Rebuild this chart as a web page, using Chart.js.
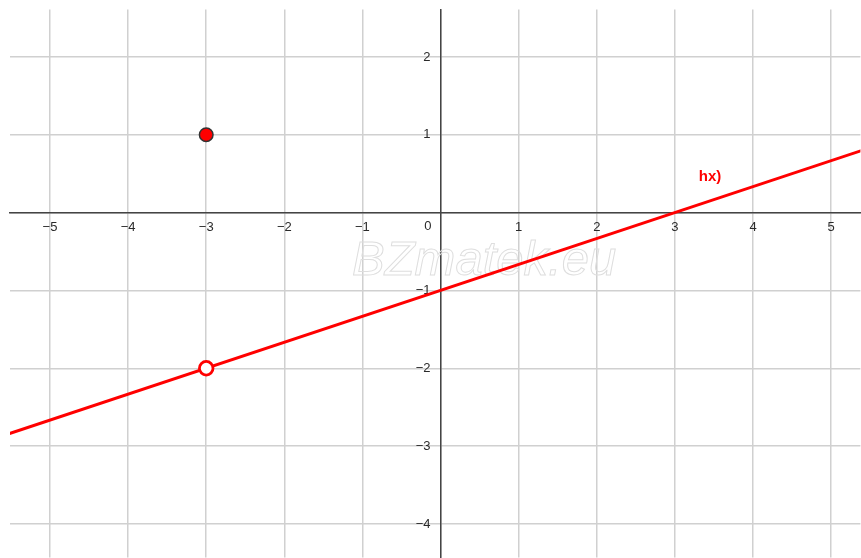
<!DOCTYPE html>
<html>
<head>
<meta charset="utf-8">
<script src="https://cdn.jsdelivr.net/npm/chart.js@4.4.1/dist/chart.umd.min.js"></script>
<style>
  html, body { margin: 0; padding: 0; background: #ffffff; overflow: hidden; }
  /* slightly larger than the window: the centred axes keep a 9px gap on the right and bottom */
  #wrap { width: 870px; height: 567px; }
</style>
</head>
<body>
<div id="wrap"><canvas id="graph"></canvas></div>
<script>
// visible window of the coordinate plane
const xRange = [-5.512, 5.375];
const yRange = [-4.43, 2.608];
const xTicks = [-5, -4, -3, -2, -1, 0, 1, 2, 3, 4, 5];
const yTicks = [-4, -3, -2, -1, 0, 1, 2];

// h(x) = x/3 - 1, drawn between two far points
const lineX = [-6, 6];
const lineY = [-3, 1];

// closed and open points at x = -3
const closedPoint = { x: -3, y: 1 };
const openPoint = { x: -3, y: -2 };

const funcLabel = 'hx)';
const funcLabelPos = { x: 3.45, y: 0.46 };
const watermark = 'BZmatek.eu';

const labelFont = { family: '"Liberation Sans", Arial, sans-serif', size: 13 };

function minusLabel(v) {
    if (v === 0) return '';
    return v < 0 ? '\u2212' + Math.abs(v) : String(v);
}

// centred axes should not push the plot area inwards
function noPadding(scale) {
    scale.paddingLeft = 0;
    scale.paddingRight = 0;
    scale.paddingTop = 0;
    scale.paddingBottom = 0;
}

const extraText = {
    id: 'extraText',
    beforeDatasetsDraw(chart) {
        const ctx = chart.ctx;
        const xs = chart.scales.x, ys = chart.scales.y;
        ctx.save();
        // watermark
        ctx.font = 'italic 49px "Liberation Sans", Arial, sans-serif';
        ctx.textAlign = 'left';
        ctx.textBaseline = 'alphabetic';
        ctx.strokeStyle = '#dedede';
        ctx.lineWidth = 1;
        ctx.strokeText(watermark, 352, 275);
        // origin label
        ctx.font = '13px "Liberation Sans", Arial, sans-serif';
        ctx.fillStyle = '#2a2a2a';
        ctx.textAlign = 'right';
        ctx.textBaseline = 'middle';
        ctx.fillText('0', xs.getPixelForValue(0) - 9, ys.getPixelForValue(0) + 14);
        ctx.restore();
    },
    afterDatasetsDraw(chart) {
        const ctx = chart.ctx;
        const xs = chart.scales.x, ys = chart.scales.y;
        ctx.save();
        ctx.font = 'bold 15px "Liberation Sans", Arial, sans-serif';
        ctx.fillStyle = '#ff0000';
        ctx.textAlign = 'center';
        ctx.textBaseline = 'middle';
        ctx.fillText(funcLabel, xs.getPixelForValue(funcLabelPos.x), ys.getPixelForValue(funcLabelPos.y));
        ctx.restore();
    }
};

const ctx = document.getElementById('graph');
new Chart(ctx, {
    type: 'scatter',
    data: {
        datasets: [
            {
                label: 'h',
                data: lineX.map((x, i) => ({ x: x, y: lineY[i] })),
                showLine: true,
                borderColor: '#ff0000',
                borderWidth: 3,
                pointRadius: 0,
                fill: false,
                order: 2
            },
            {
                label: 'closed',
                data: [closedPoint],
                pointRadius: 6.8,
                pointBackgroundColor: '#ff0000',
                pointBorderColor: '#333333',
                pointBorderWidth: 1.5,
                order: 1
            },
            {
                label: 'open',
                data: [openPoint],
                pointRadius: 6.8,
                pointBackgroundColor: '#ffffff',
                pointBorderColor: '#ff0000',
                pointBorderWidth: 2.8,
                order: 0
            }
        ]
    },
    options: {
        responsive: true,
        maintainAspectRatio: false,
        animation: false,
        layout: { padding: { left: 10, top: 5, right: 0, bottom: 0 } },
        plugins: {
            legend: { display: false },
            tooltip: { enabled: false }
        },
        scales: {
            x: {
                type: 'linear',
                min: xRange[0],
                max: xRange[1],
                position: { y: 0 },
                afterBuildTicks: (scale) => { scale.ticks = xTicks.map(v => ({ value: v })); },
                afterFit: noPadding,
                grid: { color: '#d0d0d0', lineWidth: 1.5, drawTicks: false },
                border: { color: '#444444', width: 1.5 },
                ticks: {
                    padding: 7,
                    color: '#2a2a2a',
                    font: labelFont,
                    maxRotation: 0,
                    autoSkip: false,
                    callback: (v) => minusLabel(v)
                }
            },
            y: {
                type: 'linear',
                min: yRange[0],
                max: yRange[1],
                position: { x: 0 },
                afterBuildTicks: (scale) => { scale.ticks = yTicks.map(v => ({ value: v })); },
                afterFit: noPadding,
                grid: { color: '#d0d0d0', lineWidth: 1.5, drawTicks: false },
                border: { color: '#444444', width: 1.5 },
                ticks: { display: false }
            },
            // label-only copy of the y axis, set just left of the real one
            yLabels: {
                type: 'linear',
                axis: 'y',
                min: yRange[0],
                max: yRange[1],
                position: { x: -0.128 },
                afterBuildTicks: (scale) => { scale.ticks = yTicks.map(v => ({ value: v })); },
                afterFit: noPadding,
                grid: { display: false, drawTicks: false },
                border: { display: false },
                ticks: {
                    color: '#2a2a2a',
                    font: labelFont,
                    autoSkip: false,
                    callback: (v) => minusLabel(v)
                }
            }
        }
    },
    plugins: [extraText]
});
</script>
</body>
</html>
